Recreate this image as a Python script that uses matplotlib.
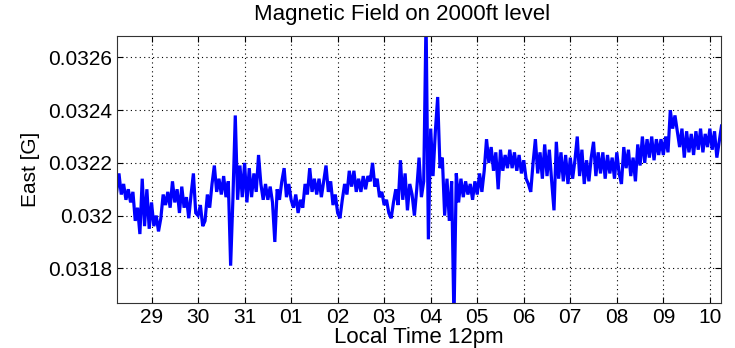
import numpy as np
import matplotlib
matplotlib.use("Agg")
import matplotlib.pyplot as plt

plt.rcParams['font.family'] = ['Liberation Sans', 'DejaVu Sans']

# sample times: days, tick "29" = noon of the 29th, samples every 0.05 day
t_start = 28.25
t_step = 0.05

# East component [G], one line per day
east = (
    # 28 (from 28.25)
    [0.03209, 0.03216, 0.03208, 0.03212, 0.03206, 0.03210, 0.03205, 0.03209, 0.03198, 0.03203,
     0.03193, 0.03214, 0.03196, 0.03210, 0.03195]
    # 29
    + [0.03205, 0.03196, 0.03200, 0.03194, 0.03199, 0.03208, 0.03204, 0.03209, 0.03203, 0.03213,
       0.03205, 0.03210, 0.03201, 0.03211, 0.03203, 0.03207, 0.03199, 0.03208, 0.03216, 0.03201]
    # 30
    + [0.03200, 0.03204, 0.03196, 0.03198, 0.03208, 0.03203, 0.03212, 0.03219, 0.03209, 0.03214,
       0.03208, 0.03215, 0.03207, 0.03213, 0.03181, 0.03207, 0.03238, 0.03206, 0.03219, 0.03207]
    # 31
    + [0.03220, 0.03205, 0.03218, 0.03207, 0.03216, 0.03209, 0.03223, 0.03212, 0.03206, 0.03212,
       0.03206, 0.03211, 0.03205, 0.03190, 0.03210, 0.03206, 0.03213, 0.03218, 0.03207, 0.03212]
    # 01
    + [0.03206, 0.03203, 0.03208, 0.03201, 0.03206, 0.03203, 0.03212, 0.03208, 0.03218, 0.03209,
       0.03214, 0.03208, 0.03214, 0.03207, 0.03213, 0.03219, 0.03209, 0.03213, 0.03204, 0.03208]
    # 02
    + [0.03201, 0.03199, 0.03206, 0.03212, 0.03208, 0.03217, 0.03211, 0.03217, 0.03209, 0.03214,
       0.03209, 0.03215, 0.03210, 0.03215, 0.03213, 0.03220, 0.03211, 0.03214, 0.03207, 0.03209]
    # 03
    + [0.03204, 0.03206, 0.03201, 0.03199, 0.03205, 0.03210, 0.03204, 0.03221, 0.03206, 0.03216,
       0.03202, 0.03212, 0.03208, 0.03200, 0.03210, 0.03222, 0.03207, 0.03213, 0.03275, 0.03191]
    # 04
    + [0.03233, 0.03215, 0.03232, 0.03245, 0.03218, 0.03222, 0.03200, 0.03214, 0.03198, 0.03213,
       0.03160, 0.03216, 0.03205, 0.03214, 0.03207, 0.03213, 0.03208, 0.03212, 0.03206, 0.03213]
    # 05
    + [0.03208, 0.03216, 0.03209, 0.03217, 0.03229, 0.03220, 0.03226, 0.03217, 0.03224, 0.03210,
       0.03225, 0.03217, 0.03223, 0.03218, 0.03225, 0.03218, 0.03224, 0.03217, 0.03223, 0.03216]
    # 06
    + [0.03221, 0.03214, 0.03212, 0.03209, 0.03220, 0.03229, 0.03216, 0.03224, 0.03214, 0.03227,
       0.03215, 0.03225, 0.03213, 0.03202, 0.03228, 0.03214, 0.03224, 0.03213, 0.03223, 0.03212]
    # 07
    + [0.03222, 0.03214, 0.03221, 0.03230, 0.03215, 0.03225, 0.03212, 0.03221, 0.03213, 0.03222,
       0.03228, 0.03215, 0.03224, 0.03216, 0.03224, 0.03214, 0.03223, 0.03216, 0.03222, 0.03214]
    # 08
    + [0.03224, 0.03216, 0.03212, 0.03226, 0.03218, 0.03225, 0.03215, 0.03222, 0.03213, 0.03227,
       0.03219, 0.03230, 0.03220, 0.03229, 0.03222, 0.03230, 0.03221, 0.03229, 0.03223, 0.03229]
    # 09
    + [0.03223, 0.03230, 0.03224, 0.03240, 0.03233, 0.03238, 0.03232, 0.03226, 0.03233, 0.03222,
       0.03232, 0.03224, 0.03231, 0.03223, 0.03232, 0.03225, 0.03233, 0.03224, 0.03231, 0.03226]
    # 10
    + [0.03233, 0.03225, 0.03232, 0.03222, 0.03228, 0.03234]
)

tick_pos = list(range(29, 42))
tick_labels = ['29', '30', '31', '01', '02', '03', '04', '05', '06', '07', '08', '09', '10']
ytick_pos = [0.0318, 0.0320, 0.0322, 0.0324, 0.0326]
ytick_labels = ['0.0318', '0.032', '0.0322', '0.0324', '0.0326']

t = t_start + t_step * np.arange(len(east))

fig = plt.figure(figsize=(7.35, 3.48), dpi=100)
ax = fig.add_axes([0.159, 0.129, 0.822, 0.768])
ax.plot(t, east, color='#0000ff', lw=2.3, solid_joinstyle='miter')

ax.set_xlim(28.255, 41.24)
ax.set_ylim(0.031668, 0.032682)
ax.set_xticks(tick_pos)
ax.set_xticklabels(tick_labels)
ax.set_yticks(ytick_pos)
ax.set_yticklabels(ytick_labels)
ax.tick_params(direction='in', top=True, right=True, labelsize=15, length=4)
ax.grid(True, color='black', linestyle=(0, (1, 3)), linewidth=0.8)
for s in ax.spines.values():
    s.set_color('#333333')

# title sits a little left of the axes centre in the original
fig.text(0.547, 0.958, 'Magnetic Field on 2000ft level', fontsize=16,
         ha='center', va='center')
ax.set_xlabel('Local Time 12pm', fontsize=16, labelpad=0)
ax.set_ylabel('East [G]', fontsize=15)
ax.yaxis.set_label_coords(-0.127, 0.5)

fig.savefig('out.png', dpi=100)
